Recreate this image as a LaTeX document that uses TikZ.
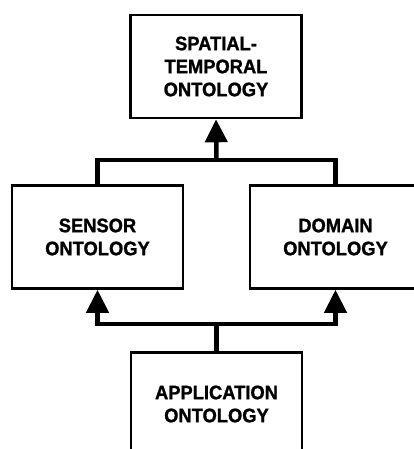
\documentclass[tikz,border=0pt]{standalone}
\usepackage{fontspec}
\setmainfont{Liberation Sans}[BoldFeatures={FakeBold=1.2,FakeStretch=0.94}]
\usetikzlibrary{arrows.meta}
\begin{document}
\begin{tikzpicture}[x=1pt,y=-1pt,
  ontobox/.style={draw=black, line width=2.6pt, fill=white, inner sep=0pt,
    minimum width=171pt, minimum height=103pt, align=center,
    font=\fontsize{19.5}{23}\selectfont\bfseries},
  link/.style={draw=black, line width=4.5pt, line join=miter},
  uparrow/.style={link, -{Triangle[width=22pt,length=23pt]}}]
\useasboundingbox[fill=white] (0,0) rectangle (414,449);
\node[ontobox] (top) at (216,66.5) {SPATIAL-\\TEMPORAL\\ONTOLOGY};
\node[ontobox] (sensor) at (97.5,237) {SENSOR\\ONTOLOGY};
\node[ontobox] (domain) at (335.5,237) {DOMAIN\\ONTOLOGY};
\node[ontobox] (app) at (216.5,404) {APPLICATION\\ONTOLOGY};
\coordinate (tb) at (216.5,160);
\coordinate (bb) at (216.5,324);
\draw[link] (sensor.north) |- (tb) -| (domain.north);
\draw[uparrow] (tb) -- (top.south);
\draw[link] (app.north) -- (bb);
\draw[uparrow] (bb) -| (sensor.south);
\draw[uparrow] (bb) -| (domain.south);
\end{tikzpicture}
\end{document}
